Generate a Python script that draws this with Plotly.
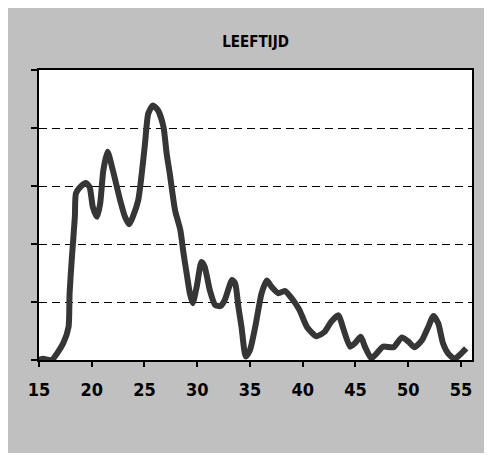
import plotly.graph_objects as go

# age distribution curve
leeftijd = [15.0, 15.4, 16.2, 17.3, 17.8, 17.9, 18.1, 18.4, 18.5, 18.9, 19.45, 19.8, 20.1, 20.5,
            20.8, 21.1, 21.5, 22.0, 22.7, 23.15, 23.56, 23.9, 24.4, 24.7, 25.05, 25.36, 25.8,
            26.3, 26.8, 27.1, 27.4, 27.9, 28.4, 28.7, 29.0, 29.3, 29.57, 29.95, 30.4, 30.7,
            31.2, 31.7, 32.2, 32.6, 33.3, 33.6, 33.9, 34.2, 34.6, 35.0, 35.5, 36.1, 36.6,
            37.05, 37.7, 38.3, 39.1, 39.7, 40.4, 41.3, 42.1, 42.7, 43.4, 43.8, 44.5, 44.95,
            45.5, 45.9, 46.5, 47.0, 47.6, 48.6, 49.4, 50.0, 50.6, 51.3, 51.9, 52.4, 52.85,
            53.3, 53.8, 54.4, 54.9, 55.5]
aandeel = [0.0, 0.02, 0.0, 0.29, 0.57, 1.15, 1.72, 2.47, 2.87, 2.98, 3.05, 2.98, 2.64, 2.47,
           2.70, 3.27, 3.59, 3.27, 2.75, 2.47, 2.34, 2.47, 2.75, 3.15, 3.73, 4.25, 4.39,
           4.30, 4.02, 3.56, 3.21, 2.58, 2.24, 1.84, 1.49, 1.15, 0.98, 1.26, 1.69, 1.61,
           1.20, 0.95, 0.93, 1.03, 1.38, 1.32, 0.92, 0.57, 0.06, 0.17, 0.57, 1.15, 1.37,
           1.26, 1.15, 1.19, 1.03, 0.86, 0.57, 0.41, 0.49, 0.66, 0.77, 0.57, 0.23, 0.29,
           0.40, 0.23, 0.03, 0.11, 0.23, 0.22, 0.39, 0.32, 0.22, 0.34, 0.57, 0.76, 0.63,
           0.29, 0.11, 0.02, 0.09, 0.20]
x_ticks = [15, 20, 25, 30, 35, 40, 45, 50, 55]

FONT = "Liberation Sans Narrow, DejaVu Sans Condensed, Arial Narrow, sans-serif"
GREY = "#C0C0C0"

fig = go.Figure()
fig.add_trace(go.Scatter(
    x=leeftijd, y=aandeel, mode="lines",
    line=dict(color="#363636", width=6, shape="spline", smoothing=0.6),
    hoverinfo="skip", showlegend=False,
))

# page has an 8px body margin, so the figure is sized to fit the window
fig.update_layout(
    width=484, height=445,
    margin=dict(l=31, r=20, t=61.5, b=93),
    paper_bgcolor=GREY, plot_bgcolor="white",
    title=dict(text="<b>LEEFTIJD</b>", x=0.5, xref="paper", xanchor="center",
               y=1 - 34 / 445, yref="container", yanchor="middle",
               font=dict(family=FONT, size=15, color="black")),
)

fig.update_xaxes(
    range=[15, 56.05], tickvals=x_ticks, ticks="outside", ticklen=5, tickwidth=1.5,
    tickcolor="black", showline=True, linecolor="black", linewidth=2, mirror=True,
    showgrid=False, zeroline=False, ticklabelstandoff=7,
    tickfont=dict(family=FONT, size=18, color="black", weight="bold"),
)
fig.update_yaxes(
    range=[0, 5], dtick=1, ticks="outside", ticklen=6, tickwidth=1.5, tickcolor="black",
    showticklabels=False, showline=True, linecolor="black", linewidth=2, mirror=True,
    showgrid=True, gridcolor="black", gridwidth=1, griddash="8px,5px", zeroline=False,
)

fig.write_html("out.html")
